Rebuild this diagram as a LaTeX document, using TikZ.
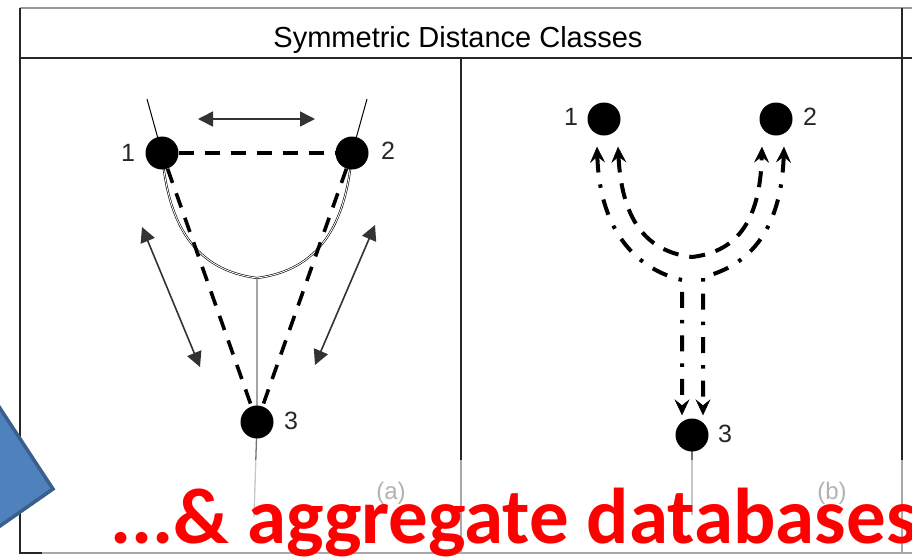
\documentclass[tikz,border=0pt]{standalone}
\usepackage{fontspec}
\setmainfont{Liberation Sans}
\newfontfamily\slidefont{Carlito}
\usetikzlibrary{arrows.meta,calc,backgrounds}
\definecolor{chevronfill}{HTML}{4F81BD}
\definecolor{chevronedge}{HTML}{3A5F8B}
\begin{document}
\begin{tikzpicture}[x=1pt,y=-1pt,
  frameline/.style={line width=1.5pt,draw=black!85},
  topline/.style={line width=1.5pt,draw=black!40},
  dot/.style={circle,fill=black,inner sep=0pt,minimum size=33pt},
  numlabel/.style={inner sep=0pt,font=\fontsize{25}{28}\selectfont,text=black!85},
  panellabel/.style={inner sep=0pt,font=\fontsize{24}{28}\selectfont,text=black!75},
  branch/.style={line width=0.6pt,double=white,double distance=0.9pt},
  rim/.style={line width=1pt},
  stem/.style={line width=1.3pt,draw=black!55},
  spread/.style={line width=1.6pt,draw=black!80,
    arrows={Triangle[length=15pt,width=15pt]-Triangle[length=15pt,width=15pt]}},
  distdash/.style={line width=3.6pt,dash pattern=on 15pt off 11pt},
  flowtips/.style={arrows={Stealth[length=16pt,width=15pt,inset=6pt,line width=0.5pt]-Stealth[length=16pt,width=15pt,inset=6pt,line width=0.5pt]}},
  flowdashdot/.style={flowtips,line width=4pt,dash pattern=on 16pt off 12pt on 3.5pt off 12pt},
  flowdash/.style={flowtips,line width=4pt,dash pattern=on 16pt off 11pt},
]
\useasboundingbox (0,0) rectangle (912,558);

% table frame
\draw[topline] (20,8) -- (912,8);
\draw[frameline] (20,8) -- (20,553) -- (912,553);
\draw[frameline] (20,58) -- (912,58);
\draw[frameline] (461,58) -- (461,553);
\draw[frameline] (902,8) -- (902,553);
\node[anchor=base,inner sep=0pt,font=\fontsize{29}{34}\selectfont] (title) at (458,47) {Symmetric Distance Classes};

% panel (a): three points with equal pairwise distances
\node[dot] (a1) at (162,153) {};
\node[dot] (a2) at (352,153) {};
\node[dot] (a3) at (257,422) {};
\node[numlabel] (la1) at (128,153) {1};
\node[numlabel] (la2) at (388,151) {2};
\node[numlabel] (la3) at (291,421) {3};

\coordinate (atl) at (147,99);
\coordinate (atr) at (367,99);
\coordinate (ajn) at (257,278);
\coordinate (afoot) at (254,517);
\begin{pgfonlayer}{background}
  \draw[rim] (atl) -- (a1.center);
  \draw[rim] (atr) -- (a2.center);
  \draw[branch] (a1.center) .. controls (168,225) and (195,270) .. (ajn);
  \draw[branch] (a2.center) .. controls (346,225) and (319,270) .. (ajn);
  \draw[stem] (ajn) -- (a3.center) -- (afoot);
\end{pgfonlayer}

\draw[distdash] (a1) -- (a2);
\draw[distdash] (a1) -- (a3);
\draw[distdash] (a2) -- (a3);

\coordinate (sTl) at (198,119);
\coordinate (sTr) at (315,119);
\coordinate (sLu) at (142,227);
\coordinate (sLd) at (200,367);
\coordinate (sRu) at (375,225);
\coordinate (sRd) at (315,365);
\draw[spread] (sTl) -- (sTr);
\draw[spread] (sLu) -- (sLd);
\draw[spread] (sRu) -- (sRd);

\node[panellabel] (pa) at (391,493) {(a)};

% panel (b): flows between the three points
\node[dot] (b1) at (604,119) {};
\node[dot] (b2) at (776,119) {};
\node[dot] (b3) at (692,435) {};
\node[numlabel] (lb1) at (571,117) {1};
\node[numlabel] (lb2) at (810,117) {2};
\node[numlabel] (lb3) at (725,434) {3};

\coordinate (bfoot) at (692,515);
\coordinate (bjn) at (692,257);
\coordinate (blc) at (682,280);
\coordinate (brc) at (703,277);
\begin{pgfonlayer}{background}
  \draw[stem] (b3.center) -- (bfoot);
\end{pgfonlayer}

\draw[flowdashdot] ($(b1.south)+(-7,11)$) .. controls (600,235) and (640,270) .. (blc) -- ($(b3.north)+(-10,-3)$);
\draw[flowdashdot] ($(b2.south)+(8,11)$) .. controls (781,235) and (745,267) .. (brc) -- ($(b3.north)+(11,-3)$);
\draw[flowdash] ($(b1.south)+(14,11)$) .. controls (622,225) and (650,252) .. (bjn)
  .. controls (734,252) and (760,225) .. ($(b2.south)+(-14,11)$);

\node[panellabel] (pb) at (832,493) {(b)};

% slide overlay: translucent caption band, blue chevron, red caption
\fill[white,opacity=0.6] (42,460) rectangle (912,558);
\filldraw[fill=chevronfill,draw=chevronedge,line width=3.5pt,line join=miter]
  (-10,393) -- (53,489) -- (-10,533) -- cycle;
\node[anchor=base west,inner sep=0pt,text=red,
  font=\slidefont\bfseries\fontsize{79}{86}\selectfont] (caption) at (110,543) {...\& aggregate databases};
\end{tikzpicture}
\end{document}
